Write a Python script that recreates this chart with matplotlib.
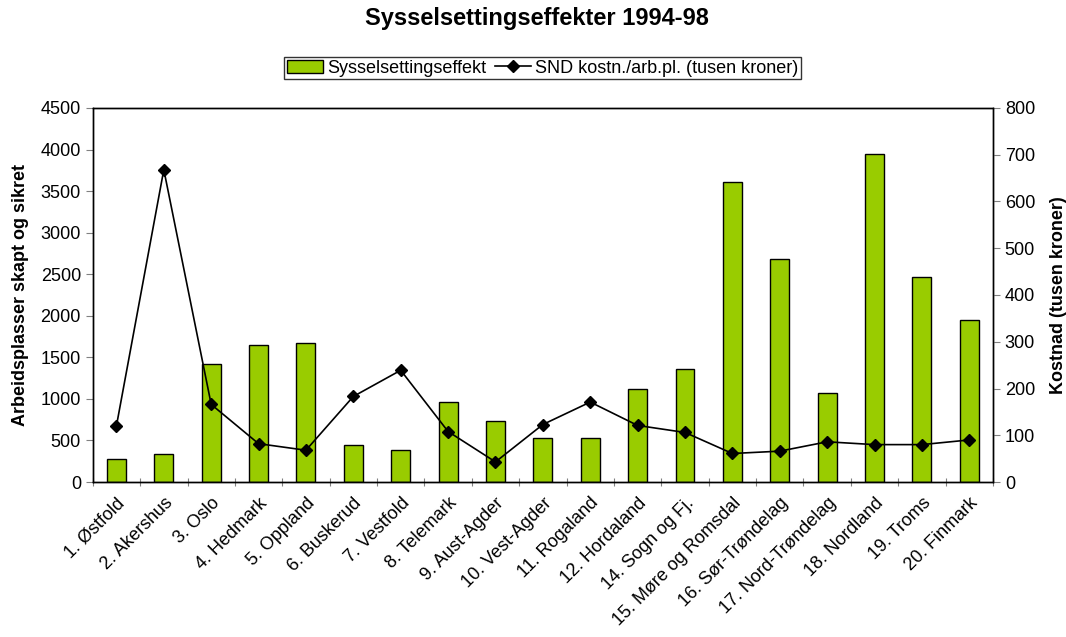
import numpy as np
import matplotlib.pyplot as plt
from matplotlib.patches import Patch
from matplotlib.lines import Line2D

plt.rcParams['font.family'] = ['Liberation Sans', 'DejaVu Sans']

fylker = ['1. Østfold', '2. Akershus', '3. Oslo', '4. Hedmark', '5. Oppland',
          '6. Buskerud', '7. Vestfold', '8. Telemark', '9. Aust-Agder',
          '10. Vest-Agder', '11. Rogaland', '12. Hordaland', '14. Sogn og Fj.',
          '15. Møre og Romsdal', '16. Sør-Trøndelag', '17. Nord-Trøndelag',
          '18. Nordland', '19. Troms', '20. Finmark']

# arbeidsplasser skapt og sikret
effekt = [280, 340, 1420, 1650, 1670, 440, 380, 960, 730, 530, 535, 1120,
          1360, 3610, 2680, 1075, 3950, 2465, 1950]

# SND kostnad per arbeidsplass (tusen kroner)
kostnad = [120, 668, 166, 82, 68, 183, 239, 108, 43, 123, 171, 121, 106,
           61, 66, 86, 80, 80, 90]

x = np.arange(len(fylker))

fig = plt.figure(figsize=(10.66, 6.37), dpi=100)
ax = fig.add_axes([0.087, 0.2433, 0.8445, 0.5872])
ax2 = ax.twinx()

ax.bar(x, effekt, width=0.4, color='#99CC00', edgecolor='black', linewidth=1, zorder=2)
ax2.plot(x, kostnad, color='black', linewidth=1.2, marker='D', markersize=6, zorder=3)

ax.set_xlim(-0.5, len(fylker) - 0.5)
ax.set_ylim(0, 4500)
ax.set_yticks(np.arange(0, 4501, 500))
ax2.set_ylim(0, 800)
ax2.set_yticks(np.arange(0, 801, 100))

# ticks between the categories on x
ax.set_xticks(np.arange(-0.5, len(fylker), 1))
ax.set_xticklabels([])
ax.set_xticks(x, minor=True)
ax.set_xticklabels(fylker, minor=True, rotation=45, ha='right', va='top',
                   rotation_mode='anchor', fontsize=13)
ax.tick_params(axis='x', which='minor', length=0, pad=9)
ax.tick_params(axis='x', which='major', length=6, direction='inout', color='gray')
ax.tick_params(axis='y', labelsize=13, length=5, direction='out', color='gray')
ax2.tick_params(axis='y', labelsize=13, length=5, direction='out', color='gray')

for a in (ax, ax2):
    for s in a.spines.values():
        s.set_color('black')
        s.set_linewidth(1)

ax.set_ylabel('Arbeidsplasser skapt og sikret', fontsize=13, fontweight='bold', labelpad=8)
ax2.set_ylabel('Kostnad (tusen kroner)', fontsize=13, fontweight='bold', labelpad=11)

fig.suptitle('Sysselsettingseffekter 1994-98', fontsize=17, fontweight='bold',
             x=0.504, y=0.971, va='center')

handles = [Patch(facecolor='#99CC00', edgecolor='black'),
           Line2D([], [], color='black', marker='D', markersize=6, linewidth=1.2)]
fig.legend(handles, ['Sysselsettingseffekt', 'SND kostn./arb.pl. (tusen kroner)'],
           loc='center', bbox_to_anchor=(0.509, 0.893), ncol=2, fontsize=13,
           frameon=True, fancybox=False, edgecolor='black', handlelength=2.0,
           handletextpad=0.2, columnspacing=0.5, borderpad=0.15)

fig.savefig('out.png', dpi=100)
